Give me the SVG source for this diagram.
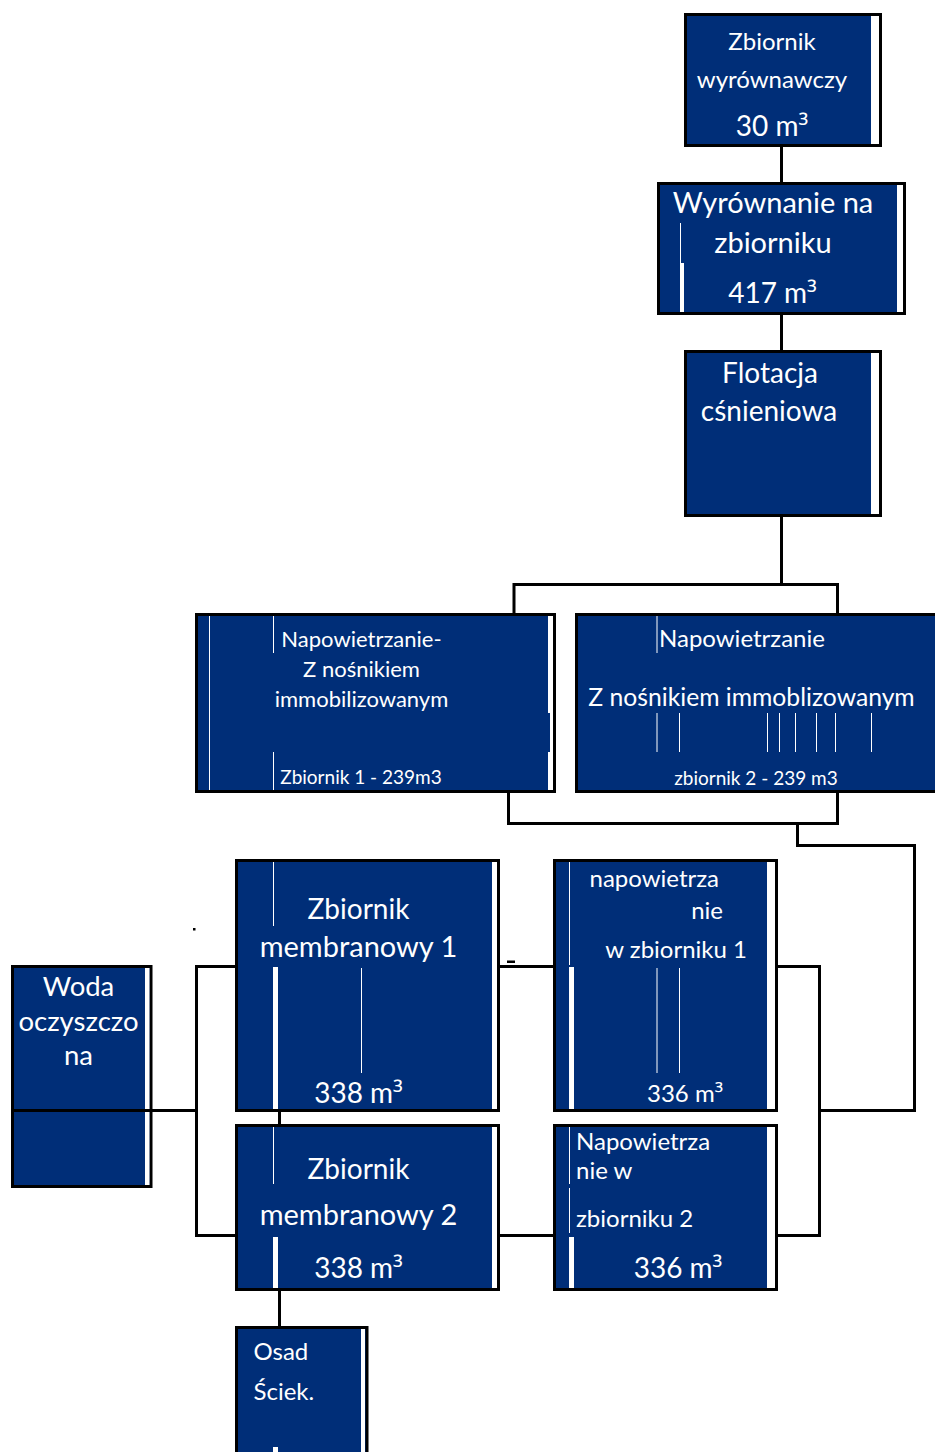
<svg xmlns="http://www.w3.org/2000/svg" width="935" height="1452" viewBox="0 0 935 1452">
  <style>
    .box { fill: #002E78; stroke: #000; stroke-width: 3; }
    .hl { fill: #fff; }
    .conn { fill: none; stroke: #000; stroke-width: 3; }
    .t { font-family: Lato, "Open Sans", "Noto Sans", sans-serif; fill: #fff; }
    .c { text-anchor: middle; }
    .e { text-anchor: end; }
    .s19 { font-size: 19px; }
    .s21 { font-size: 22px; }
    .s24 { font-size: 24px; }
    .s28 { font-size: 28px; }
    .s29 { font-size: 29px; }
    .sup { font-family: "Open Sans", "Noto Sans", sans-serif; }
  </style>
  <rect width="935" height="1452" fill="#fff"/>

  <!-- connectors -->
  <g id="connectors">
    <path class="conn" d="M781.5 146 V183"/>
    <path class="conn" d="M781.5 314 V351"/>
    <path class="conn" d="M781.5 517 V584.5"/>
    <path class="conn" d="M514 613 V584.5 H837.5 V613"/>
    <path class="conn" d="M508.5 792 V823.5 H837.5 V792"/>
    <path class="conn" d="M797.5 823.5 V845.5 H914.5 V1110.5 H819"/>
    <path class="conn" d="M776 966.5 H819.5 V1235.5 H776"/>
    <path class="conn" d="M499 966.5 H554"/>
    <path class="conn" d="M499 1235.5 H554"/>
    <path class="conn" d="M236 966.5 H196.5 V1235.5 H236"/>
    <path class="conn" d="M151 1110.5 H196.5"/>
    <path class="conn" d="M279.5 1111 V1125"/>
    <path class="conn" d="M279.5 1290 V1327"/>
    <rect x="193" y="928" width="2.5" height="2.5" fill="#000"/>
    <rect x="507" y="960.5" width="8" height="2.5" fill="#000"/>
  </g>

  <!-- equalisation tank -->
  <g id="zbiornik-wyrownawczy">
    <rect class="box" x="685.5" y="14.5" width="195" height="131"/>
    <rect class="hl" x="871" y="16" width="8" height="128"/>
    <text class="t c s24" x="772" y="50">Zbiornik</text>
    <text class="t c s24" x="772" y="88">wyrównawczy</text>
    <text class="t c s28" x="772" y="136">30 m<tspan class="sup">³</tspan></text>
  </g>

  <g id="wyrownanie">
    <rect class="box" x="658.5" y="183.5" width="246" height="130"/>
    <rect class="hl" x="897" y="185" width="6" height="127"/>
    <rect class="hl" x="680" y="223" width="1" height="40"/>
    <rect class="hl" x="680" y="263" width="4" height="49"/>
    <text class="t c s29" x="773" y="213">Wyrównanie na</text>
    <text class="t c s29" x="773" y="253">zbiorniku</text>
    <text class="t c s28" x="772.5" y="303">417 m<tspan class="sup">³</tspan></text>
  </g>

  <g id="flotacja">
    <rect class="box" x="685.5" y="351.5" width="195" height="164"/>
    <rect class="hl" x="871" y="353" width="8" height="161"/>
    <text class="t c s28" x="770" y="383">Flotacja</text>
    <text class="t c s28" x="769" y="421">cśnieniowa</text>
  </g>

  <g id="napowietrzanie-1">
    <rect class="box" x="196.5" y="614.5" width="358" height="177"/>
    <rect class="hl" x="548" y="616" width="5" height="97"/>
    <rect class="hl" x="550" y="713" width="3" height="39"/>
    <rect class="hl" x="548" y="752" width="5" height="38"/>
    <rect class="hl" x="209" y="616" width="1" height="174"/>
    <rect class="hl" x="273" y="616" width="1" height="37"/>
    <rect class="hl" x="273" y="752" width="1" height="38"/>
    <text class="t c s21" x="361.5" y="647">Napowietrzanie-</text>
    <text class="t c s21" x="361.5" y="677">Z nośnikiem</text>
    <text class="t c s21" x="361.5" y="707">immobilizowanym</text>
    <text class="t c s19" x="361" y="784">Zbiornik 1 - 239m3</text>
  </g>

  <g id="napowietrzanie-2">
    <rect class="box" x="576.5" y="614.5" width="400" height="177"/>
    <rect class="hl" x="656.5" y="616" width="1" height="37"/>
    <g class="hl">
      <rect x="656.5" y="713" width="1" height="39"/>
      <rect x="679" y="713" width="1" height="39"/>
      <rect x="767" y="713" width="1" height="39"/>
      <rect x="779" y="713" width="1" height="39"/>
      <rect x="795" y="713" width="1" height="39"/>
      <rect x="816" y="713" width="1" height="39"/>
      <rect x="835" y="713" width="1" height="39"/>
      <rect x="871" y="713" width="1" height="39"/>
    </g>
    <text class="t s24" x="659" y="647">Napowietrzanie</text>
    <text class="t c" x="751.5" y="706" font-size="24.7">Z nośnikiem immoblizowanym</text>
    <text class="t c s19" x="756" y="785">zbiornik 2 - 239 m3</text>
  </g>

  <g id="woda-oczyszczona">
    <rect class="box" x="12.5" y="966.5" width="138.5" height="220"/>
    <rect class="hl" x="145" y="968" width="4.5" height="217"/>
    <line x1="12.5" y1="1110.5" x2="151" y2="1110.5" stroke="#000" stroke-width="3"/>
    <text class="t c" font-size="27.5" x="78.5" y="996">Woda</text>
    <text class="t c" font-size="27.5" x="78.5" y="1031">oczyszczo</text>
    <text class="t c" font-size="27.5" x="78.5" y="1065">na</text>
  </g>

  <g id="membranowy-1">
    <rect class="box" x="236.5" y="860.5" width="262" height="250"/>
    <rect class="hl" x="492" y="862" width="5" height="247"/>
    <rect class="hl" x="273" y="862" width="1" height="64"/>
    <rect class="hl" x="273" y="967" width="5" height="142"/>
    <rect class="hl" x="361" y="968" width="1" height="105"/>
    <text class="t c s28" x="358.5" y="919">Zbiornik</text>
    <text class="t c s29" x="358.5" y="957">membranowy 1</text>
    <text class="t c s28" x="358.5" y="1103">338 m<tspan class="sup">³</tspan></text>
  </g>

  <g id="napowietrzanie-zb-1">
    <rect class="box" x="554.5" y="860.5" width="222" height="250"/>
    <rect class="hl" x="767" y="862" width="8" height="247"/>
    <rect class="hl" x="569" y="862" width="1" height="103"/>
    <rect class="hl" x="569" y="967" width="5" height="142"/>
    <rect class="hl" x="656.5" y="968" width="1" height="105"/>
    <rect class="hl" x="679" y="968" width="1" height="105"/>
    <text class="t s24" x="589.5" y="887">napowietrza</text>
    <text class="t e s24" x="723" y="919">nie</text>
    <text class="t e s24" x="747" y="958">w zbiorniku 1</text>
    <text class="t e s24" x="723" y="1102">336 m<tspan class="sup">³</tspan></text>
  </g>

  <g id="membranowy-2">
    <rect class="box" x="236.5" y="1125.5" width="262" height="164"/>
    <rect class="hl" x="492" y="1127" width="5" height="161"/>
    <rect class="hl" x="273" y="1127" width="1" height="57"/>
    <rect class="hl" x="273" y="1237" width="5" height="51"/>
    <text class="t c s28" x="358.5" y="1179">Zbiornik</text>
    <text class="t c s29" x="358.5" y="1225">membranowy 2</text>
    <text class="t c s28" x="358.5" y="1278">338 m<tspan class="sup">³</tspan></text>
  </g>

  <g id="napowietrzanie-zb-2">
    <rect class="box" x="554.5" y="1125.5" width="222" height="164"/>
    <rect class="hl" x="767" y="1127" width="8" height="161"/>
    <rect class="hl" x="569" y="1127" width="1" height="57"/>
    <rect class="hl" x="569" y="1188" width="1" height="45"/>
    <rect class="hl" x="569" y="1237" width="5" height="51"/>
    <text class="t s24" x="576" y="1150">Napowietrza</text>
    <text class="t s24" x="576" y="1179">nie w</text>
    <text class="t s24" x="576" y="1227">zbiorniku 2</text>
    <text class="t c s28" x="678" y="1278">336 m<tspan class="sup">³</tspan></text>
  </g>

  <g id="osad">
    <rect class="box" x="236.5" y="1327.5" width="130.5" height="140"/>
    <rect class="hl" x="361" y="1329" width="4" height="130"/>
    <rect class="hl" x="273" y="1447" width="5" height="6"/>
    <text class="t s24" x="253.5" y="1360">Osad</text>
    <text class="t s24" x="253.5" y="1400">Ściek.</text>
  </g>
</svg>
